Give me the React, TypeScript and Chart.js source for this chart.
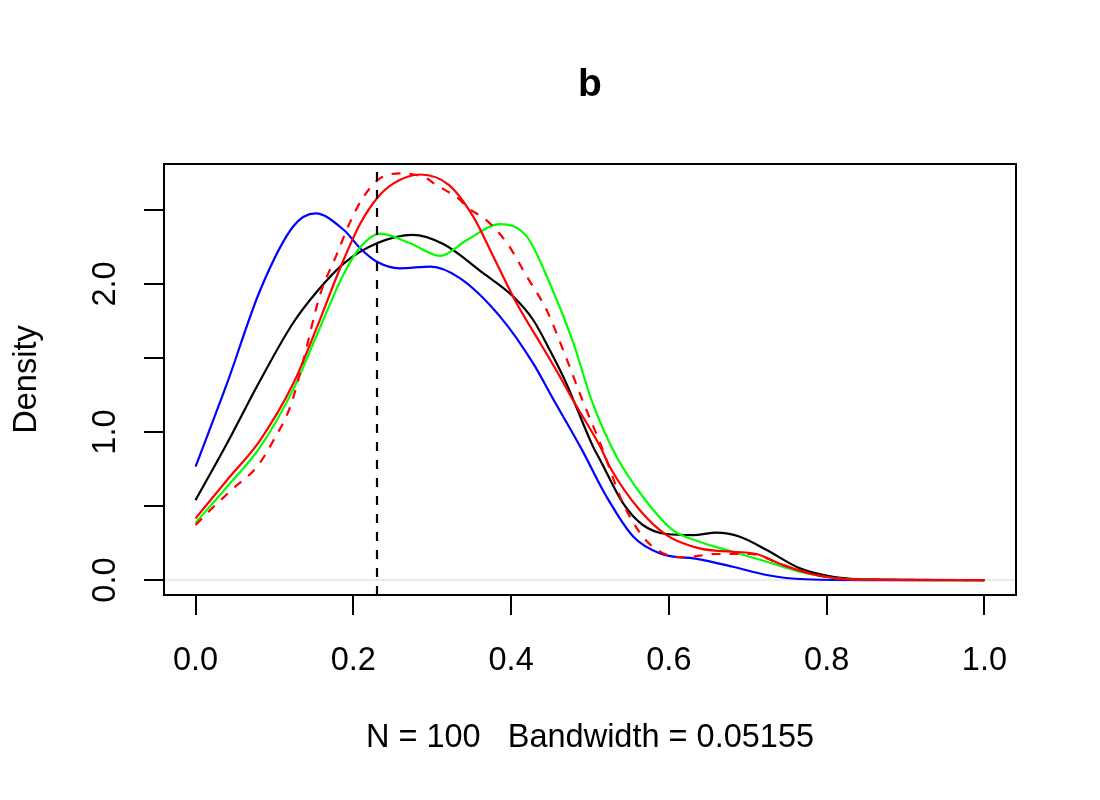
import React, { useEffect, useRef } from "react";
import { Chart, registerables } from "chart.js";

Chart.register(...registerables);

// ---- text ----
const chartTitle = "b";
const xAxisTitle = "N = 100   Bandwidth = 0.05155";
const yAxisTitle = "Density";

// ---- axes ----
const xTickValues = [0, 0.2, 0.4, 0.6, 0.8, 1.0];
const xTickLabels = ["0.0", "0.2", "0.4", "0.6", "0.8", "1.0"];
const yTickValues = [0, 0.5, 1, 1.5, 2, 2.5];
const yTickLabels = ["0.0", "", "1.0", "", "2.0", ""];
const xRange = [-0.04, 1.04];
const yRange = [-0.101, 2.811];

// reference value marked with the dashed vertical line
const markerX = 0.23;

// ---- density curves ----
const blackX = [0, 0.04, 0.082, 0.124, 0.154, 0.188, 0.23, 0.275, 0.314, 0.365, 0.403, 0.428, 0.449, 0.47, 0.479, 0.504, 0.513, 0.542, 0.567, 0.597, 0.631, 0.66, 0.69, 0.724, 0.766, 0.808, 0.85, 1.0];
const blackY = [0.54, 0.924, 1.35, 1.74, 1.95, 2.14, 2.275, 2.332, 2.27, 2.072, 1.914, 1.757, 1.554, 1.329, 1.216, 0.9, 0.81, 0.518, 0.372, 0.311, 0.304, 0.32, 0.293, 0.203, 0.079, 0.022, 0.004, 0];

const blueX = [0, 0.04, 0.082, 0.124, 0.152, 0.188, 0.209, 0.23, 0.259, 0.298, 0.335, 0.386, 0.428, 0.454, 0.49, 0.521, 0.555, 0.589, 0.639, 0.681, 0.724, 0.766, 0.85, 1.0];
const blueY = [0.766, 1.33, 1.96, 2.39, 2.477, 2.365, 2.24, 2.15, 2.106, 2.118, 2.04, 1.78, 1.464, 1.216, 0.878, 0.563, 0.293, 0.18, 0.14, 0.09, 0.034, 0.007, 0, 0];

const greenX = [0, 0.04, 0.082, 0.124, 0.158, 0.188, 0.209, 0.234, 0.272, 0.31, 0.344, 0.386, 0.42, 0.449, 0.479, 0.503, 0.532, 0.567, 0.605, 0.639, 0.681, 0.724, 0.766, 0.808, 0.86, 1.0];
const greenY = [0.387, 0.63, 0.9, 1.29, 1.71, 2.07, 2.25, 2.34, 2.275, 2.19, 2.297, 2.405, 2.32, 2.005, 1.6, 1.2, 0.85, 0.563, 0.338, 0.259, 0.191, 0.124, 0.056, 0.014, 0.002, 0];

const redX = [0, 0.04, 0.082, 0.124, 0.154, 0.184, 0.209, 0.23, 0.251, 0.285, 0.321, 0.352, 0.378, 0.407, 0.437, 0.462, 0.478, 0.513, 0.525, 0.563, 0.597, 0.639, 0.681, 0.711, 0.745, 0.787, 0.83, 1.0];
const redY = [0.417, 0.676, 0.946, 1.329, 1.71, 2.117, 2.41, 2.58, 2.68, 2.74, 2.67, 2.455, 2.18, 1.87, 1.6, 1.374, 1.22, 0.9, 0.766, 0.473, 0.304, 0.214, 0.191, 0.176, 0.101, 0.034, 0.005, 0];

const redDashX = [0, 0.02, 0.048, 0.078, 0.099, 0.12, 0.135, 0.158, 0.179, 0.196, 0.213, 0.234, 0.259, 0.293, 0.302, 0.335, 0.344, 0.369, 0.395, 0.42, 0.445, 0.466, 0.492, 0.513, 0.542, 0.567, 0.589, 0.618, 0.66, 0.703, 0.745, 0.787, 0.83, 1.0];
const redDashY = [0.372, 0.48, 0.62, 0.766, 0.946, 1.171, 1.45, 1.93, 2.2, 2.42, 2.59, 2.714, 2.747, 2.714, 2.68, 2.57, 2.52, 2.43, 2.275, 2.05, 1.824, 1.554, 1.194, 0.924, 0.518, 0.293, 0.191, 0.153, 0.176, 0.176, 0.101, 0.034, 0.005, 0];

const FAMILY = '"Liberation Sans", Arial, Helvetica, sans-serif';
const FONT_SIZE = 32.5;

const pts = (xs: number[], ys: number[]) => xs.map((x, i) => ({ x, y: ys[i] }));

// draws the plot frame and the rotated y tick labels
const framePlugin = {
  id: "frame",
  afterDraw(chart: any) {
    const { ctx, chartArea: a, scales } = chart;
    ctx.save();
    ctx.strokeStyle = "#000";
    ctx.lineWidth = 2;
    ctx.strokeRect(a.left, a.top, a.right - a.left, a.bottom - a.top);

    const ys = scales.y;
    ctx.fillStyle = "#000";
    ctx.font = `${FONT_SIZE}px ${FAMILY}`;
    ctx.textAlign = "center";
    ctx.textBaseline = "alphabetic";
    const baseX = ys.right - 49;
    yTickValues.forEach((v, i) => {
      const label = yTickLabels[i];
      if (!label) return;
      const py = ys.getPixelForValue(v);
      ctx.save();
      ctx.translate(baseX, py);
      ctx.rotate(-Math.PI / 2);
      ctx.fillText(label, 0, 0);
      ctx.restore();
    });
    ctx.restore();
  },
};

export default function App() {
  const canvasRef = useRef<HTMLCanvasElement | null>(null);

  useEffect(() => {
    if (!canvasRef.current) return;
    const curve = (label: string, data: any[], color: string, dash: number[] = []) => ({
      label,
      data,
      borderColor: color,
      backgroundColor: color,
      borderWidth: 2.2,
      borderDash: dash,
      pointRadius: 0,
      fill: false,
      cubicInterpolationMode: "monotone" as const,
    });

    const chart = new Chart(canvasRef.current, {
      type: "line",
      data: {
        datasets: [
          {
            label: "marker",
            data: [
              { x: markerX, y: yRange[0] },
              { x: markerX, y: yRange[1] },
            ],
            borderColor: "#000",
            borderWidth: 2.2,
            borderDash: [9, 9],
            pointRadius: 0,
            tension: 0,
            fill: false,
          },
          curve("red dashed", pts(redDashX, redDashY), "#ff0000", [9, 9]),
          curve("red", pts(redX, redY), "#ff0000"),
          curve("green", pts(greenX, greenY), "#00ff00"),
          curve("blue", pts(blueX, blueY), "#0000ff"),
          curve("black", pts(blackX, blackY), "#000000"),
          {
            label: "zero",
            data: [
              { x: xRange[0], y: 0 },
              { x: xRange[1], y: 0 },
            ],
            borderColor: "#e3e3e3",
            borderWidth: 1.5,
            pointRadius: 0,
            tension: 0,
            fill: false,
          },
        ],
      },
      options: {
        animation: false,
        responsive: false,
        events: [],
        layout: { padding: { left: 0, right: 84, top: 0, bottom: 0 } },
        plugins: {
          legend: { display: false },
          tooltip: { enabled: false },
          title: {
            display: true,
            text: chartTitle,
            fullSize: false,
            color: "#000",
            font: { family: FAMILY, size: 39, weight: "bold", lineHeight: 1.2 },
            padding: { top: 62, bottom: 55.2 },
          },
        },
        scales: {
          x: {
            type: "linear",
            min: xRange[0],
            max: xRange[1],
            offset: false,
            afterBuildTicks: (s: any) => {
              s.ticks = xTickValues.map((value) => ({ value }));
            },
            afterFit: (s: any) => {
              s.height = 205;
            },
            ticks: {
              autoSkip: false,
              maxRotation: 0,
              minRotation: 0,
              padding: 27,
              color: "#000",
              font: { family: FAMILY, size: FONT_SIZE, lineHeight: 1.2 },
              callback: (_v: any, i: number) => xTickLabels[i],
            },
            grid: {
              drawOnChartArea: false,
              drawTicks: true,
              tickLength: 20,
              tickColor: "#000",
              tickWidth: 2,
              color: "#000",
              lineWidth: 2,
            },
            border: { display: false },
            title: {
              display: true,
              text: xAxisTitle,
              color: "#000",
              font: { family: FAMILY, size: FONT_SIZE, lineHeight: 1.2 },
              padding: { top: 0, bottom: 42.5 },
            },
          },
          y: {
            type: "linear",
            min: yRange[0],
            max: yRange[1],
            afterBuildTicks: (s: any) => {
              s.ticks = yTickValues.map((value) => ({ value }));
            },
            afterFit: (s: any) => {
              s.width = 164;
            },
            ticks: { display: false },
            grid: {
              drawOnChartArea: false,
              drawTicks: true,
              tickLength: 20,
              tickColor: "#000",
              tickWidth: 2,
              color: "#000",
              lineWidth: 2,
            },
            border: { display: false },
            title: {
              display: true,
              text: yAxisTitle,
              color: "#000",
              font: { family: FAMILY, size: FONT_SIZE, lineHeight: 1.2 },
              padding: { top: 7.5, bottom: 0 },
            },
          },
        },
      },
      plugins: [framePlugin],
    } as any);

    return () => chart.destroy();
  }, []);

  return (
    <div style={{ position: "absolute", left: 0, top: 0, width: 1100, height: 800, background: "#fff" }}>
      <canvas ref={canvasRef} width={1100} height={800} />
    </div>
  );
}
